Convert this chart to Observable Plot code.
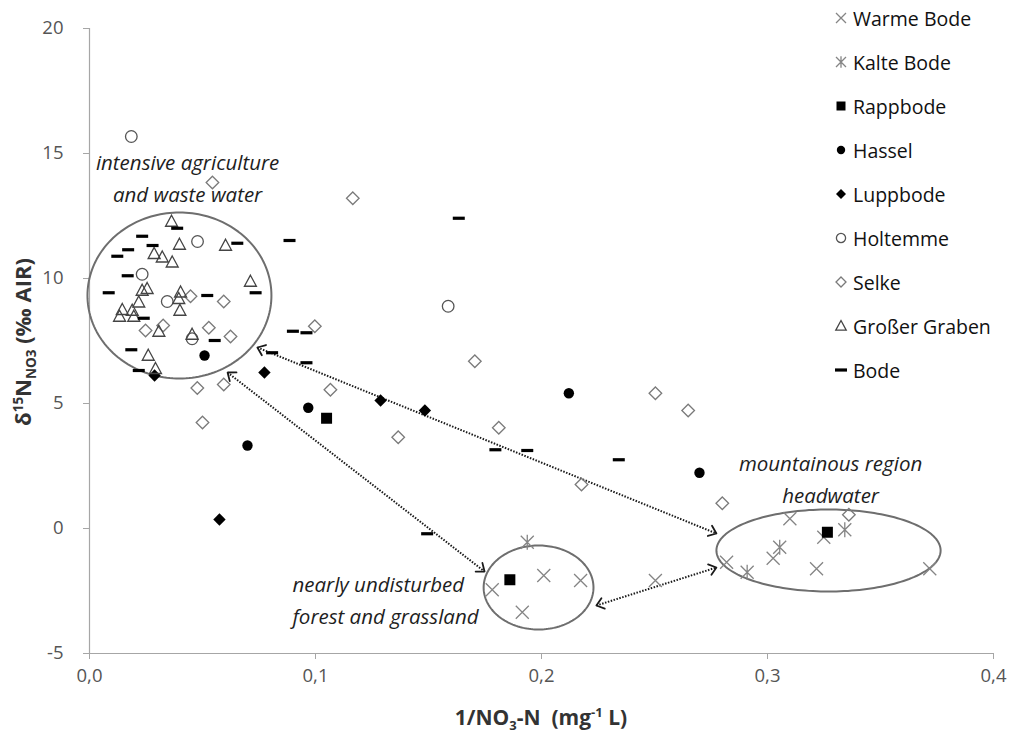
<!DOCTYPE html>
<html>
<head>
<meta charset="utf-8">
<script src="https://cdn.jsdelivr.net/npm/d3@7"></script>
<script src="https://cdn.jsdelivr.net/npm/@observablehq/plot@0.6"></script>
<style>
  body { margin: 0; background: #fff; }
  #chart { position: relative; width: 1012px; height: 734px; }
  .legend { position: absolute; left: 833px; top: 0; font-family: "Open Sans", sans-serif; font-size: 19.5px; color: #111; }
  .legend .item { position: absolute; left: 0; display: flex; align-items: center; white-space: nowrap; height: 26px; }
  .legend svg { width: 16px; height: 16px; margin-right: 4px; overflow: visible; }
</style>
</head>
<body>
<div id="chart"></div>
<script>
// δ15N of nitrate vs. inverse nitrate concentration, by stream (x = 1/NO3-N, y = δ15N)
const seriesNames = ["Warme Bode", "Kalte Bode", "Rappbode", "Hassel", "Luppbode", "Holtemme", "Selke", "Großer Graben", "Bode"];

const warmeBode = [[0.2010,-1.88],[0.2173,-2.08],[0.1782,-2.45],[0.1915,-3.35],[0.2504,-2.08],[0.3099,0.39],
  [0.3249,-0.35],[0.3025,-1.19],[0.2819,-1.35],[0.3217,-1.61],[0.3718,-1.61]];
const kalteBode = [[0.1937,-0.55],[0.3054,-0.75],[0.2910,-1.75],[0.3342,-0.05]];
const rappbode = [[0.1049,4.41],[0.1860,-2.05],[0.3265,-0.15]];
const hassel = [[0.0509,6.92],[0.0968,4.83],[0.0699,3.32],[0.2121,5.41],[0.2699,2.23]];
const luppbode = [[0.0288,6.12],[0.0774,6.24],[0.1288,5.12],[0.1484,4.72],[0.0575,0.36]];
const holtemme = [[0.0185,15.68],[0.0478,11.48],[0.0233,10.17],[0.0344,9.08],[0.0454,7.59],[0.1587,8.89]];
const selke = [[0.0544,13.84],[0.1165,13.21],[0.0447,9.29],[0.0594,9.08],[0.0248,7.92],[0.0326,8.12],[0.0528,8.03],
  [0.0624,7.68],[0.0997,8.09],[0.0477,5.62],[0.0594,5.76],[0.0500,4.24],[0.1066,5.55],[0.1705,6.69],[0.1366,3.65],
  [0.1811,4.03],[0.2504,5.41],[0.2649,4.72],[0.2177,1.76],[0.2800,1.01],[0.3360,0.55]];
const grosserGraben = [[0.0363,12.28],[0.0398,11.36],[0.0602,11.32],[0.0286,10.99],[0.0322,10.85],[0.0366,10.65],
  [0.0233,9.52],[0.0255,9.59],[0.0218,9.05],[0.0145,8.75],[0.0133,8.48],[0.0189,8.72],[0.0196,8.48],[0.0403,9.45],
  [0.0395,9.19],[0.0400,8.72],[0.0712,9.88],[0.0307,7.88],[0.0454,7.76],[0.0260,6.92],[0.0292,6.39]];
const bode = [[0.0388,12.01],[0.0233,11.69],[0.0279,11.32],[0.0171,11.15],[0.0123,10.89],[0.0169,10.11],[0.0085,9.43],
  [0.0654,11.41],[0.0521,9.32],[0.0735,9.43],[0.0240,8.41],[0.0554,7.52],[0.0185,7.15],[0.0218,6.32],[0.0885,11.52],
  [0.1634,12.41],[0.0900,7.89],[0.0960,7.83],[0.0808,7.03],[0.0960,6.63],[0.1796,3.15],[0.1937,3.12],[0.2342,2.75],
  [0.1494,-0.21]];

const xTicks = [0, 0.1, 0.2, 0.3, 0.4];
const yTicks = [-5, 0, 5, 10, 15, 20];

// source-area groupings: centre and half-axes in data units
const groups = [
  {cx: 0.0398, cy: 9.32, rx: 0.0407, ry: 3.32},
  {cx: 0.1987, cy: -2.36, rx: 0.0243, ry: 1.68},
  {cx: 0.3270, cy: -0.88, rx: 0.0496, ry: 1.64}
];
// double-headed links between the groups
const links = [
  {x1: 0.0743, y1: 7.24, x2: 0.2774, y2: -0.20},
  {x1: 0.0611, y1: 6.24, x2: 0.1748, y2: -1.72},
  {x1: 0.2243, y1: -3.08, x2: 0.2774, y2: -1.56}
];
const notes = [
  {x: 0.0434, y: 14.60, text: "intensive agriculture", anchor: "middle"},
  {x: 0.0434, y: 13.32, text: "and waste water", anchor: "middle"},
  {x: 0.0898, y: -2.28, text: "nearly undisturbed", anchor: "start"},
  {x: 0.0898, y: -3.56, text: "forest and grassland", anchor: "start"},
  {x: 0.3279, y: 2.56, text: "mountainous region", anchor: "middle"},
  {x: 0.3279, y: 1.28, text: "headwater", anchor: "middle"}
];

// marker shapes (size = πr², so r is the nominal radius)
const shape = (fn) => ({draw(ctx, size) { fn(ctx, Math.sqrt(size / Math.PI)); }});
const times = shape((c, r) => { c.moveTo(-r, -r); c.lineTo(r, r); c.moveTo(-r, r); c.lineTo(r, -r); });
const star = shape((c, r) => { c.moveTo(-r, -r); c.lineTo(r, r); c.moveTo(-r, r); c.lineTo(r, -r); c.moveTo(0, -r * 1.15); c.lineTo(0, r * 1.15); });
const square = shape((c, r) => { c.rect(-r, -r, 2 * r, 2 * r); });
const circle = shape((c, r) => { c.moveTo(r, 0); c.arc(0, 0, r, 0, 2 * Math.PI); });
const diamond = shape((c, r) => { c.moveTo(0, -r); c.lineTo(r, 0); c.lineTo(0, r); c.lineTo(-r, 0); c.closePath(); });
const triangle = shape((c, r) => { c.moveTo(0, -r); c.lineTo(r * 0.95, r * 0.75); c.lineTo(-r * 0.95, r * 0.75); c.closePath(); });
const dash = shape((c, r) => { c.rect(-r, -1.6, 2 * r, 3.2); });

const seriesData = [warmeBode, kalteBode, rappbode, hassel, luppbode, holtemme, selke, grosserGraben, bode];
const seriesStyle = [
  {symbol: times, r: 6.5, fill: "none", stroke: "#858585", strokeWidth: 1.3, lr: 5},
  {symbol: star, r: 6.5, fill: "none", stroke: "#858585", strokeWidth: 1.3, lr: 5},
  {symbol: square, r: 5.5, fill: "#000", stroke: "none", strokeWidth: 0, lr: 4.5},
  {symbol: circle, r: 5.2, fill: "#000", stroke: "none", strokeWidth: 0, lr: 4.2},
  {symbol: diamond, r: 6.2, fill: "#000", stroke: "none", strokeWidth: 0, lr: 5},
  {symbol: circle, r: 5.8, fill: "none", stroke: "#555", strokeWidth: 1.3, lr: 4.6},
  {symbol: diamond, r: 6.3, fill: "none", stroke: "#7a7a7a", strokeWidth: 1.3, lr: 5},
  {symbol: triangle, r: 6.3, fill: "none", stroke: "#444", strokeWidth: 1.3, lr: 5.5},
  {symbol: dash, r: 6, fill: "#000", stroke: "none", strokeWidth: 0, lr: 6}
];

const rows = seriesData.map((pts, i) => pts.map(([x, y]) => ({series: seriesNames[i], x, y})));
const ellipsePts = groups.map((g, i) => d3.range(0, 361, 2).map(a => ({
  k: i, x: g.cx + g.rx * Math.cos(a * Math.PI / 180), y: g.cy + g.ry * Math.sin(a * Math.PI / 180)
})));

const font = "'Open Sans', sans-serif";
const chart = Plot.plot({
  width: 1012,
  height: 734,
  marginLeft: 89,
  marginRight: 19,
  marginTop: 28,
  marginBottom: 81,
  style: {fontFamily: font, background: "#fff"},
  x: {domain: [0, 0.4]},
  y: {domain: [-5, 20]},
  marks: [
    Plot.ruleX([0], {stroke: "#a6a6a6", strokeWidth: 1.2}),
    Plot.ruleY([-5], {stroke: "#a6a6a6", strokeWidth: 1.2}),
    Plot.axisX({ticks: xTicks, tickFormat: d => d.toFixed(1).replace(".", ","), tickSize: 6, tickPadding: 9,
      fontSize: 18.5, stroke: "#a6a6a6", fill: "#555", label: null}),
    Plot.axisY({ticks: yTicks, tickFormat: d => String(d), tickSize: 6, tickPadding: 20,
      fontSize: 18.5, stroke: "#a6a6a6", fill: "#555", label: null}),
    ...ellipsePts.map(pts => Plot.line(pts, {x: "x", y: "y", stroke: "#6e6e6e", strokeWidth: 2, curve: "linear-closed"})),
    Plot.link(links, {x1: "x1", y1: "y1", x2: "x2", y2: "y2", stroke: "#1a1a1a", strokeWidth: 2,
      strokeDasharray: "1.5,1.5", markerStart: "arrow-reverse", markerEnd: "arrow"}),
    ...rows.map((data, i) => {
      const s = seriesStyle[i];
      return Plot.dot(data, {x: "x", y: "y", symbol: s.symbol, r: s.r, fill: s.fill, stroke: s.stroke, strokeWidth: s.strokeWidth});
    }),
    Plot.text(notes.filter(d => d.anchor === "middle"), {x: "x", y: "y", text: "text", textAnchor: "middle",
      fontSize: 20.5, fontStyle: "italic", fill: "#1e1e1e"}),
    Plot.text(notes.filter(d => d.anchor === "start"), {x: "x", y: "y", text: "text", textAnchor: "start",
      fontSize: 20.5, fontStyle: "italic", fill: "#1e1e1e"})
  ]
});

// arrowheads: solid, open chevrons sized in pixels
d3.select(chart).selectAll("marker")
  .attr("stroke-dasharray", "none")
  .attr("markerUnits", "userSpaceOnUse")
  .attr("viewBox", "-10 -10 20 20")
  .attr("markerWidth", 20)
  .attr("markerHeight", 20)
  .attr("overflow", "visible")
  .attr("stroke-width", 1.8)
  .each(function () {
    const m = d3.select(this);
    m.selectAll("*").remove();
    m.append("path").attr("d", "M-7,-5.5L0,0L-7,5.5").attr("fill", "none").attr("stroke-dasharray", "none");
  });

// axis titles with sub- and superscripts
const svg = d3.select(chart);
const xt = svg.append("text")
  .attr("x", 541).attr("y", 725).attr("text-anchor", "middle")
  .attr("font-size", 21).attr("font-weight", "bold").attr("fill", "#333").attr("font-family", font);
xt.append("tspan").text("1/NO");
xt.append("tspan").attr("font-size", 13).attr("dy", 5).text("3");
xt.append("tspan").attr("dy", -5).text("-N  (mg");
xt.append("tspan").attr("font-size", 13).attr("dy", -8).text("-1");
xt.append("tspan").attr("dy", 8).text(" L)");

const yt = svg.append("text")
  .attr("transform", "translate(31,342) rotate(-90)").attr("text-anchor", "middle")
  .attr("font-size", 22).attr("font-weight", "bold").attr("fill", "#333").attr("font-family", font);
yt.append("tspan").text("δ");
yt.append("tspan").attr("font-size", 13.5).attr("dy", -8).text("15");
yt.append("tspan").attr("dy", 8).text("N");
yt.append("tspan").attr("font-size", 13.5).attr("dy", 5).text("NO3");
yt.append("tspan").attr("dy", -5).text(" (‰ AIR)");

const root = document.getElementById("chart");
root.appendChild(chart);

// legend
const legend = document.createElement("div");
legend.className = "legend";
seriesNames.forEach((name, i) => {
  const s = seriesStyle[i];
  const p = d3.path();
  s.symbol.draw(p, Math.PI * s.lr * s.lr);
  const item = document.createElement("div");
  item.className = "item";
  item.style.top = (5 + i * 44) + "px";
  item.innerHTML = `<svg viewBox="-8 -8 16 16"><path d="${p}" fill="${s.fill}" stroke="${s.stroke}" stroke-width="${s.strokeWidth}"/></svg><span>${name}</span>`;
  legend.appendChild(item);
});
root.appendChild(legend);
</script>
</body>
</html>
